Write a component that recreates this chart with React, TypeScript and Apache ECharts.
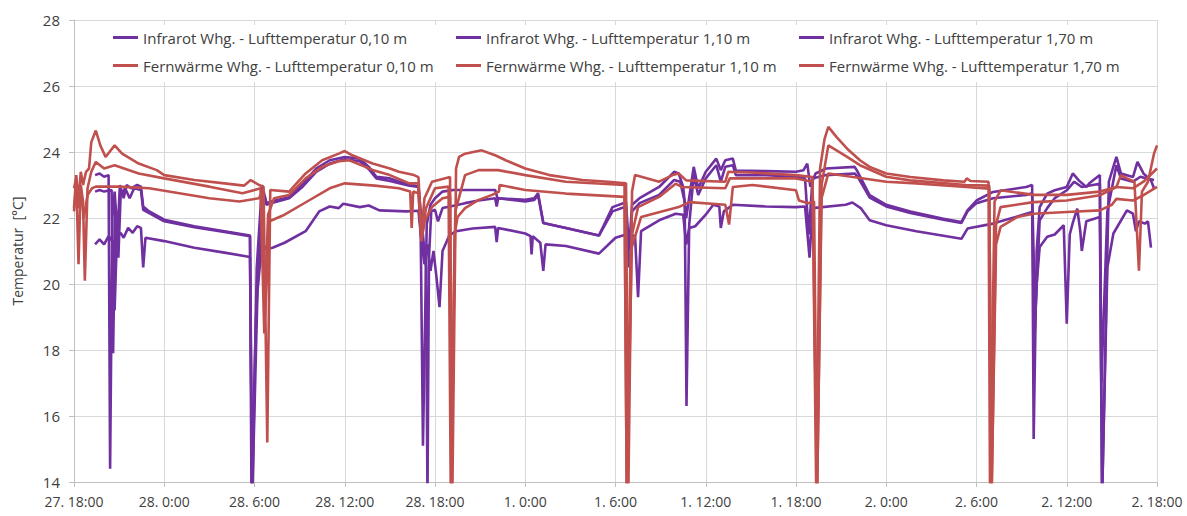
import React, { useEffect, useRef } from "react";
import * as echarts from "echarts";

// x = hours since 27. 18:00
const tickLabels = ["27. 18:00", "28. 0:00", "28. 6:00", "28. 12:00", "28. 18:00", "1. 0:00", "1. 6:00", "1. 12:00", "1. 18:00", "2. 0:00", "2. 6:00", "2. 12:00", "2. 18:00"];

const seriesNames = [
  "Infrarot Whg. - Lufttemperatur 0,10 m",
  "Infrarot Whg. - Lufttemperatur 1,10 m",
  "Infrarot Whg. - Lufttemperatur 1,70 m",
  "Fernwärme Whg. - Lufttemperatur 0,10 m",
  "Fernwärme Whg. - Lufttemperatur 1,10 m",
  "Fernwärme Whg. - Lufttemperatur 1,70 m",
];

const ir010: number[][] = [
  [1.4, 21.2], [1.7, 21.35], [2.0, 21.2], [2.3, 21.45], [2.55, 21.3], [2.7, 19.2], [2.85, 21.4], [3.1, 21.55], [3.3, 21.4], [3.6, 21.7], [3.9, 21.55], [4.2, 21.75], [4.45, 21.7], [4.6, 20.5], [4.75, 21.4],
  [6.0, 21.3], [8.0, 21.1], [10.0, 20.95], [11.7, 20.82], [11.85, 13.5], [12.2, 19.8], [12.5, 21.25], [12.8, 21.05], [13.2, 21.1], [14.0, 21.25], [15.4, 21.6], [16.3, 22.2], [17.0, 22.35], [17.6, 22.3], [17.9, 22.43], [19.0, 22.33], [19.6, 22.38], [20.3, 22.23], [22.1, 22.2], [22.9, 22.22],
  [23.1, 21.3], [23.3, 20.6], [23.5, 21.2], [23.7, 20.4], [23.9, 21.0], [24.1, 20.2], [24.3, 19.3], [24.5, 21.0], [24.95, 21.47], [25.4, 21.6], [26.5, 21.68], [28.0, 21.73], [28.1, 21.27], [28.2, 21.7], [30.0, 21.53], [30.35, 21.45], [30.42, 20.9], [30.5, 21.45], [31.0, 21.25], [31.2, 20.4], [31.35, 21.2], [32.7, 21.15], [34.9, 20.92],
  [36.0, 21.4], [36.7, 21.5], [37.3, 21.45], [37.5, 19.6], [37.7, 21.6], [38.9, 21.93], [40.0, 22.13], [40.5, 22.1], [40.7, 21.2], [40.9, 21.7], [41.3, 21.75], [42.0, 22.1], [42.5, 22.4], [42.9, 22.35], [43.0, 21.7], [43.2, 22.2], [43.8, 22.4], [46.0, 22.35], [48.0, 22.33], [48.6, 22.35], [48.9, 20.8], [49.1, 22.3],
  [51.3, 22.4], [51.75, 22.47], [52.3, 22.3], [52.9, 21.93], [54.0, 21.78], [56.0, 21.6], [59.0, 21.37], [59.4, 21.68], [61.1, 21.83], [63.7, 22.18], [63.85, 18.3], [64.0, 20.0], [64.2, 21.12], [64.7, 21.43], [65.2, 21.5], [65.8, 21.78], [66.0, 18.8], [66.2, 21.5], [66.4, 21.85], [66.7, 22.28], [66.9, 21.6], [67.0, 21.0], [67.3, 21.9], [68.2, 22.03], [68.35, 13.5], [68.7, 20.5], [69.1, 21.53], [70.0, 22.23], [70.4, 22.13], [70.6, 21.6], [70.8, 21.9], [71.2, 21.83], [71.4, 21.9], [71.6, 21.1],
];

const ir110: number[][] = [
  [1.4, 22.8], [1.7, 22.85], [2.0, 22.8], [2.5, 22.85], [2.6, 17.9], [2.75, 22.4], [2.95, 20.8], [3.1, 22.7], [3.4, 22.9], [3.7, 22.6], [4.0, 22.9], [4.45, 22.85], [4.6, 22.25], [5.0, 22.15], [6.0, 21.9], [8.0, 21.72], [10.0, 21.58], [11.7, 21.45], [11.8, 13.5], [12.1, 19.0], [12.55, 22.8], [12.8, 22.4], [13.1, 22.45], [14.3, 22.6], [15.2, 22.95], [16.1, 23.4], [17.0, 23.65], [18.0, 23.78], [19.0, 23.72], [19.6, 23.48], [20.1, 23.2], [21.0, 23.12], [22.3, 22.98], [22.9, 22.95],
  [23.4, 20.5], [23.5, 13.5], [23.6, 20.8], [23.75, 22.2], [24.0, 22.25], [24.2, 21.9], [24.5, 22.3], [25.0, 22.35], [26.0, 22.45], [26.9, 22.53], [28.0, 22.6], [28.1, 22.35], [28.2, 22.6], [30.0, 22.5], [30.6, 22.55], [30.85, 22.7], [31.2, 21.85], [32.7, 21.7], [34.9, 21.47], [35.8, 22.2], [36.7, 22.35],
  [36.9, 20.5], [37.1, 22.2], [37.6, 22.45], [38.9, 22.7], [39.9, 23.15], [40.3, 23.1], [40.6, 22.5], [40.72, 16.3], [40.9, 21.8], [41.2, 23.3], [41.5, 22.7], [42.0, 23.2], [42.7, 23.6], [43.0, 23.1], [43.3, 23.55], [43.8, 23.6], [44.0, 23.3], [46.0, 23.3], [48.0, 23.25], [48.6, 23.2], [48.85, 21.5], [49.1, 23.2], [50.0, 23.3], [51.9, 23.35], [52.1, 23.25], [52.9, 22.62], [54.0, 22.35], [55.6, 22.15], [57.8, 21.95], [59.0, 21.85], [59.4, 22.2], [60.0, 22.45], [61.1, 22.6], [63.3, 22.7], [63.7, 22.75],
  [63.9, 19.0], [64.2, 21.93], [64.7, 22.3], [65.2, 22.6], [66.0, 22.84], [66.5, 23.1], [67.0, 22.94], [68.2, 23.04], [68.3, 17.0], [68.7, 22.2], [69.3, 23.6], [69.6, 23.2], [70.4, 23.1], [70.9, 23.25], [71.3, 23.2], [71.8, 23.15],
];

const ir170: number[][] = [
  [1.4, 23.3], [1.7, 23.35], [2.0, 23.25], [2.3, 23.3], [2.4, 14.4], [2.55, 22.0], [2.7, 22.8], [2.9, 21.5], [3.05, 23.0], [3.3, 22.6], [3.5, 23.0], [3.8, 22.9], [4.2, 23.0], [4.45, 22.95], [4.6, 22.35], [5.0, 22.2], [6.0, 21.95], [8.0, 21.75], [10.0, 21.6], [11.7, 21.47], [11.85, 13.5], [12.15, 20.5], [12.5, 23.0], [12.8, 22.45], [13.1, 22.5], [14.3, 22.63], [15.2, 23.04], [16.1, 23.5], [17.0, 23.75], [18.0, 23.85], [19.0, 23.8], [19.6, 23.55], [20.1, 23.25], [21.0, 23.2], [22.3, 23.0], [22.9, 22.95],
  [23.05, 21.5], [23.2, 15.1], [23.45, 21.8], [23.7, 22.4], [24.0, 22.6], [24.5, 22.8], [25.2, 22.85], [28.0, 22.85], [28.15, 22.6], [30.0, 22.55], [30.6, 22.6], [30.85, 22.75], [31.2, 21.85], [32.7, 21.7], [34.9, 21.47], [35.8, 22.33], [36.7, 22.48],
  [36.9, 21.0], [37.1, 22.4], [37.6, 22.6], [38.9, 22.94], [39.9, 23.4], [40.2, 23.35], [40.5, 22.94], [40.7, 22.0], [41.2, 23.55], [41.5, 22.9], [42.0, 23.4], [42.7, 23.8], [43.0, 23.45], [43.3, 23.75], [43.8, 23.8], [44.0, 23.44], [46.0, 23.42], [48.0, 23.4], [48.5, 23.45], [48.75, 23.65], [48.95, 22.95], [49.3, 23.35], [50.0, 23.5], [51.9, 23.55], [52.1, 23.4], [52.9, 22.69], [54.0, 22.4], [55.6, 22.2], [57.8, 21.98], [59.0, 21.88], [59.4, 22.23], [60.0, 22.53], [61.1, 22.79], [63.3, 22.94], [63.7, 23.0],
  [63.8, 15.3], [64.0, 21.0], [64.2, 22.33], [64.7, 22.74], [65.2, 22.84], [66.0, 22.94], [66.4, 23.35], [66.8, 23.14], [67.3, 22.94], [67.5, 23.05], [68.2, 23.3], [68.35, 13.5], [68.8, 23.1], [69.3, 23.85], [69.6, 23.35], [70.4, 23.24], [70.7, 23.7], [71.1, 23.35], [71.6, 23.14], [71.8, 22.9],
];

const fw010: number[][] = [
  [0, 22.2], [0.15, 23.0], [0.3, 22.3], [0.45, 22.9], [0.65, 22.0], [0.9, 22.7], [1.2, 22.9], [1.45, 22.95], [3.0, 22.95], [5.0, 22.9], [7.0, 22.75], [9.0, 22.6], [11.0, 22.5], [12.3, 22.6], [12.55, 22.85], [12.7, 19.0], [13.0, 21.9], [14.0, 22.1], [15.5, 22.5], [17.0, 22.9], [18.0, 23.05], [20.0, 22.98], [21.6, 22.9], [22.35, 22.8], [22.45, 21.7], [22.55, 22.8], [22.9, 22.75],
  [23.1, 21.3], [23.3, 21.9], [23.8, 22.33], [24.5, 22.6], [25.0, 22.64], [25.1, 13.5], [25.3, 21.5], [25.5, 22.03], [26.0, 22.3], [26.9, 22.55], [27.8, 22.7], [28.25, 22.8], [28.3, 23.0], [30.0, 22.85], [32.7, 22.74], [36.6, 22.64], [36.75, 13.5], [37.0, 21.0], [37.7, 22.03], [40.2, 22.33], [40.9, 22.48], [43.3, 22.4], [43.55, 21.8], [43.8, 22.94], [45.1, 23.0], [48.0, 22.84], [48.2, 22.53], [48.8, 22.45], [49.2, 22.5], [49.4, 13.5], [49.7, 22.6], [50.15, 23.35], [51.8, 23.24], [54.0, 23.1], [56.0, 23.05], [59.3, 22.94], [60.85, 22.89],
  [61.0, 13.5], [61.3, 21.2], [61.6, 21.73], [62.7, 22.03], [63.8, 22.13], [66.0, 22.18], [68.2, 22.23], [69.0, 22.4], [69.3, 22.58], [70.4, 22.53], [71.1, 22.69], [72.0, 22.94],
];

const fw110: number[][] = [
  [0, 22.9], [0.15, 23.2], [0.3, 20.6], [0.45, 23.0], [0.6, 22.5], [0.72, 20.1], [0.9, 22.9], [1.15, 23.4], [1.45, 23.7], [2.0, 23.5], [2.7, 23.6], [4.3, 23.35], [6.0, 23.2], [9.0, 22.95], [11.2, 22.75], [12.4, 22.9], [12.65, 18.5], [12.9, 22.1], [13.3, 22.6], [14.3, 22.7], [15.4, 23.2], [16.5, 23.55], [17.6, 23.72], [18.3, 23.75], [19.9, 23.45], [21.0, 23.3], [22.3, 23.05], [22.9, 23.05],
  [23.1, 21.3], [23.4, 22.3], [24.0, 22.9], [24.9, 22.95], [25.05, 13.5], [25.35, 22.2], [26.0, 23.3], [26.9, 23.45], [28.2, 23.45], [30.0, 23.3], [32.7, 23.1], [36.6, 23.0], [36.75, 13.5], [37.1, 21.5], [37.5, 22.33], [38.9, 22.64], [40.0, 23.04], [40.4, 22.94], [43.3, 22.9], [43.6, 23.2], [48.0, 23.2], [49.1, 23.1], [49.4, 13.5], [49.7, 23.0], [50.15, 24.2], [51.4, 23.85], [52.25, 23.6], [54.0, 23.25], [55.6, 23.14], [59.3, 23.0], [60.85, 22.98],
  [61.0, 13.5], [61.3, 21.8], [61.6, 22.33], [63.8, 22.48], [66.0, 22.53], [68.2, 22.69], [69.3, 22.94], [70.4, 22.9], [71.1, 23.1], [72.0, 23.5],
];

const fw170: number[][] = [
  [0, 22.3], [0.15, 23.3], [0.3, 22.5], [0.45, 23.4], [0.6, 23.0], [0.8, 23.4], [1.0, 23.5], [1.15, 24.3], [1.45, 24.65], [1.75, 24.2], [2.1, 23.85], [2.7, 24.2], [3.2, 23.95], [4.3, 23.65], [5.5, 23.45], [6.0, 23.3], [8.0, 23.15], [10.0, 23.05], [11.3, 22.98], [11.75, 23.15], [12.3, 23.0], [12.6, 22.95], [12.85, 15.2], [13.05, 22.85], [14.3, 22.8], [15.4, 23.35], [16.5, 23.75], [17.6, 23.95], [18.0, 24.03], [18.5, 23.9], [19.85, 23.65], [21.0, 23.5], [21.6, 23.4], [22.6, 23.3], [22.9, 23.24],
  [23.1, 21.5], [23.3, 22.6], [23.8, 23.1], [25.0, 23.24], [25.15, 13.5], [25.4, 23.5], [25.6, 23.85], [26.0, 23.95], [27.1, 24.05], [28.0, 23.9], [28.7, 23.75], [30.0, 23.5], [31.6, 23.3], [33.8, 23.15], [35.5, 23.1], [36.7, 23.05], [36.85, 13.5], [37.1, 22.8], [37.3, 23.3], [38.9, 23.1], [39.8, 23.3], [40.2, 23.35], [40.7, 23.14], [43.3, 23.1], [43.5, 23.4], [45.0, 23.38], [48.0, 23.3], [49.1, 23.24],
  [49.35, 13.5], [49.6, 23.5], [49.9, 24.4], [50.15, 24.76], [50.7, 24.45], [51.4, 24.1], [52.25, 23.75], [52.9, 23.55], [54.0, 23.35], [55.6, 23.24], [57.8, 23.14], [59.2, 23.1], [59.35, 23.2], [59.6, 23.12], [60.8, 23.1], [60.9, 13.5], [61.2, 22.5], [61.6, 22.84], [63.8, 22.7], [66.0, 22.7], [68.2, 22.8], [69.3, 22.94], [69.6, 23.3], [70.0, 23.2], [70.5, 23.1], [70.8, 20.4], [71.0, 22.8], [71.4, 23.1], [71.8, 23.95], [72.0, 24.2],
];

const seriesData = [ir010, ir110, ir170, fw010, fw110, fw170];
const PURPLE = "#7030A0";
const RED = "#C0504D";
const seriesColors = [PURPLE, PURPLE, PURPLE, RED, RED, RED];

export default function App() {
  const ref = useRef<HTMLDivElement>(null);
  useEffect(() => {
    document.body.style.margin = "0";
    if (!ref.current) return;
    const chart = echarts.init(ref.current, undefined, { renderer: "svg" });
    const font = "'Open Sans', 'Noto Sans', sans-serif";
    const textColor = "#404040";
    const legendCols = [0, 1, 2].map((i) => ({
      orient: "vertical" as const,
      left: [113, 456, 799][i],
      top: 29,
      z: 10,
      itemWidth: 25,
      itemHeight: 3,
      itemGap: 11,
      icon: "rect",
      padding: 0,
      textStyle: { fontFamily: font, fontSize: 15, color: textColor, lineHeight: 17, padding: [0, 0, 0, 0] },
      data: [seriesNames[i], seriesNames[i + 3]],
      selectedMode: false,
    }));
    chart.setOption({
      animation: false,
      backgroundColor: "#ffffff",
      textStyle: { fontFamily: font },
      graphic: [
        { type: "rect", z: 5, shape: { x: 100, y: 25, width: 1050, height: 57 }, style: { fill: "#ffffff" } },
      ],
      legend: legendCols,
      grid: { left: 74, right: 30, top: 20, bottom: 34, containLabel: false },
      xAxis: {
        type: "value",
        min: 0,
        max: 72,
        interval: 6,
        axisLine: { show: true, lineStyle: { color: "#bfbfbf", width: 1 } },
        axisTick: { show: true, length: 5, lineStyle: { color: "#bfbfbf" } },
        splitLine: { show: true, lineStyle: { color: "#d9d9d9", width: 1 } },
        axisLabel: {
          margin: 12,
          fontSize: 14,
          color: textColor,
          fontFamily: font,
          formatter: (v: number) => tickLabels[Math.round(v / 6)] ?? "",
        },
      },
      yAxis: {
        type: "value",
        min: 14,
        max: 28,
        interval: 2,
        name: "Temperatur  [°C]",
        nameLocation: "middle",
        nameGap: 50,
        nameTextStyle: { fontSize: 14, color: textColor, fontFamily: font },
        axisLine: { show: true, lineStyle: { color: "#bfbfbf", width: 1 } },
        axisTick: { show: true, length: 5, lineStyle: { color: "#bfbfbf" } },
        splitLine: { show: true, lineStyle: { color: "#d9d9d9", width: 1 } },
        axisLabel: { margin: 14, fontSize: 15, color: textColor, fontFamily: font },
      },
      series: seriesData.map((d, i) => ({
        name: seriesNames[i],
        type: "line",
        data: d,
        showSymbol: false,
        symbol: "none",
        clip: true,
        color: seriesColors[i],
        lineStyle: { width: 2.6, color: seriesColors[i] },
        z: 2,
      })),
    });
    return () => chart.dispose();
  }, []);
  return <div ref={ref} style={{ width: 1187, height: 516 }} />;
}
